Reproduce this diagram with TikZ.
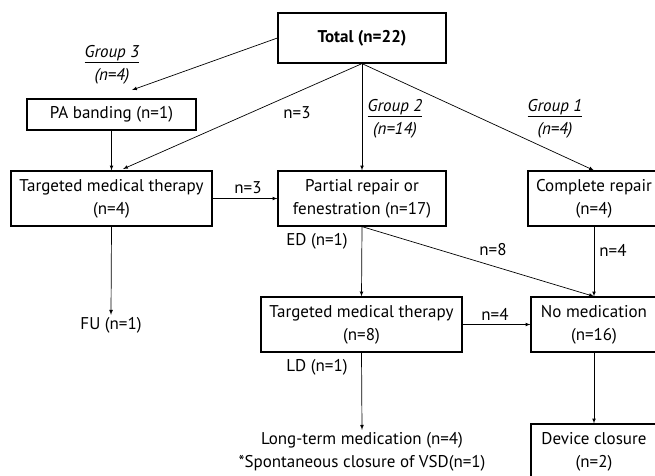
\documentclass[tikz,border=0pt]{standalone}
\usepackage{fontspec}
\setmainfont{PT Sans}
\usepackage{tikz}
\usetikzlibrary{arrows}

\begin{document}
\begin{tikzpicture}[x=1pt, y=-1pt,
  font=\fontsize{17}{23}\selectfont,
  box/.style={draw, line width=1.2pt, inner sep=0pt, align=center},
  lbl/.style={inner sep=2pt, align=center},
  conn/.style={-latex, line width=0.7pt}]
\clip (0,0) rectangle (655,475);
\node[box, minimum width=168, minimum height=50] (total) at (362,38) {\textbf{Total (n=22)}};
\node[box, minimum width=169, minimum height=31] (pa) at (111.5,114.5) {PA banding (n=1)};
\node[box, minimum width=201, minimum height=55] (tmt1) at (111.5,198.5) {Targeted medical therapy\\(n=4)};
\node[box, minimum width=168, minimum height=55] (partial) at (362,198.5) {Partial repair or\\fenestration (n=17)};
\node[box, minimum width=132, minimum height=55] (complete) at (594,198.5) {Complete repair\\(n=4)};
\node[box, minimum width=201, minimum height=55] (tmt2) at (361.5,324.5) {Targeted medical therapy\\(n=8)};
\node[box, minimum width=126, minimum height=55] (nomed) at (594,324.5) {No medication\\(n=16)};
\node[box, minimum width=126, minimum height=55] (device) at (594,451.5) {Device closure\\(n=2)};
\node[lbl] (fu) at (111,325) {FU (n=1)};
\node[lbl] (longterm) at (362,451.5) {Long-term medication (n=4)\\*Spontaneous closure of VSD(n=1)};
\node[lbl] (g3) at (112,65) {\underline{\textit{Group 3}}\\\textit{(n=4)}};
\node[lbl] (g2) at (395,119) {\underline{\textit{Group 2}}\\\textit{(n=14)}};
\node[lbl] (g1) at (555,119) {\underline{\textit{Group 1}}\\\textit{(n=4)}};
\node[lbl] (n3a) at (297,113) {n=3};
\node[lbl] (n3b) at (248,188) {n=3};
\node[lbl] (ed) at (317,241) {ED (n=1)};
\node[lbl] (ld) at (317,367) {LD (n=1)};
\node[lbl] (n8) at (493,250) {n=8};
\node[lbl] (n4a) at (613,250) {n=4};
\node[lbl] (n4b) at (495,314) {n=4};
\coordinate (paend) at (132,90);
\coordinate (tmtend) at (123,169);
\draw[conn] (total.west) -- (paend);
\draw[conn] (total.south) -- (tmtend);
\draw[conn] (total.south) -- (partial.north);
\draw[conn] (total.south) -- (complete.north);
\draw[conn] (pa.south) -- (tmt1.north);
\draw[conn] (tmt1.east) -- (partial.west);
\draw[conn] (tmt1.south) -- (fu.north);
\draw[conn] (partial.south) -- (tmt2.north);
\draw[conn] (partial.south) -- (nomed.north);
\draw[conn] (complete.south) -- (nomed.north);
\draw[conn] (tmt2.east) -- (nomed.west);
\draw[conn] (tmt2.south) -- (longterm.north);
\draw[conn] (nomed.south) -- (device.north);
\end{tikzpicture}
\end{document}
